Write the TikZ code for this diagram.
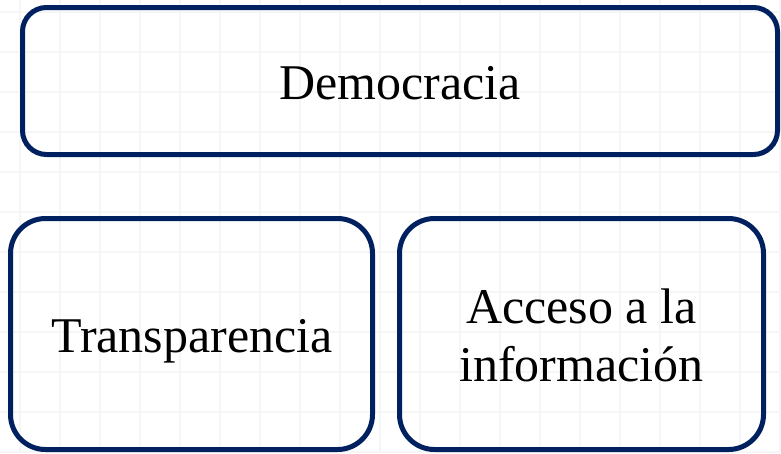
\documentclass[tikz,border=0pt]{standalone}
\usepackage{fontspec}
\setmainfont{Liberation Serif}
\definecolor{navy}{HTML}{002060}
\definecolor{gridc}{HTML}{F6F6F6}
\begin{document}
\begin{tikzpicture}[x=1pt,y=-1pt,
  box/.style={draw=navy,line width=5pt,fill=none,rounded corners=#1,inner sep=0pt},
  box/.default=35pt,
  label text/.style={font=\fontsize{50}{58}\selectfont,text=black,inner sep=0pt,anchor=base}]
\fill[white] (0,0) rectangle (781,453);
\useasboundingbox (0,0) rectangle (781,453);
\foreach \x in {20,60,...,780} \draw[gridc,line width=1.2pt] (\x,0) -- (\x,453);
\foreach \y in {12,52,...,452} \draw[gridc,line width=1.2pt] (0,\y) -- (781,\y);
\node[box=24pt,minimum width=755pt,minimum height=147pt] (dem) at (400,81) {};
\node[label text] (demt) at (400,99) {Democracia};
\node[box,minimum width=362pt,minimum height=231pt] (tra) at (191.5,334) {};
\node[label text] (trat) at (192,352) {Transparencia};
\node[box,minimum width=364pt,minimum height=231pt] (acc) at (581.5,334) {};
\node[label text] (acct1) at (581.5,323) {Acceso a la};
\node[label text] (acct2) at (581.5,381) {información};
\end{tikzpicture}
\end{document}
